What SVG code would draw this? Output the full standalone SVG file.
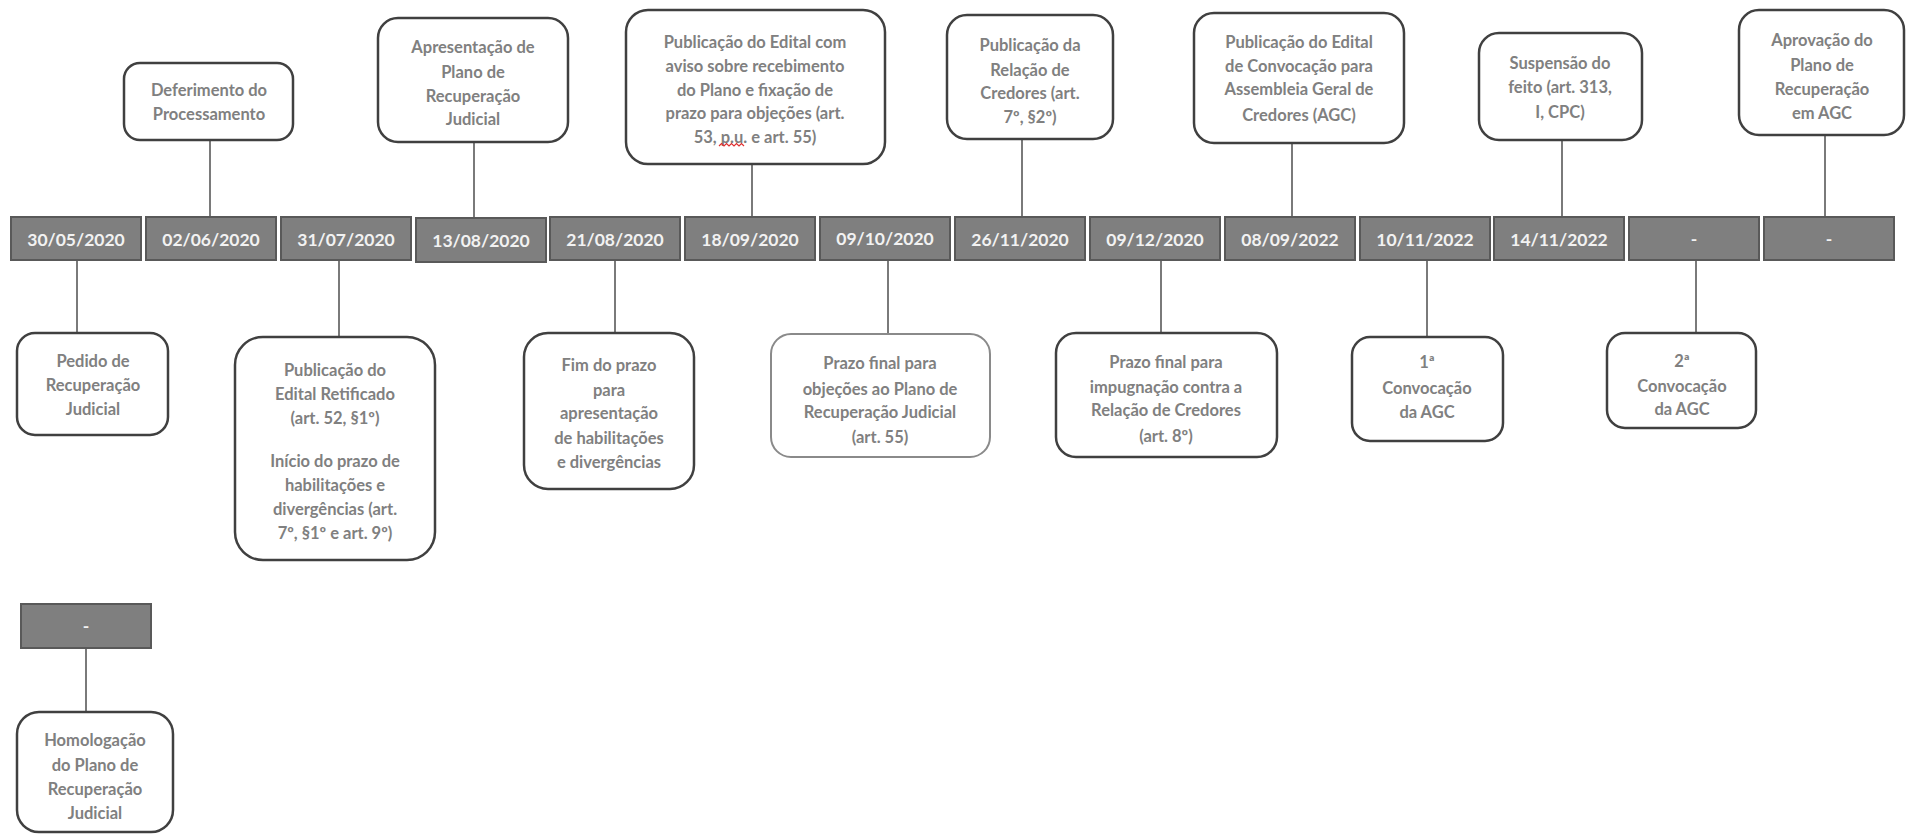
<svg xmlns="http://www.w3.org/2000/svg" width="1907" height="836" viewBox="0 0 1907 836">
<style>
.bg{fill:#ffffff}
.box{fill:#ffffff;stroke:#404040;stroke-width:2.5}
.box-light{fill:#ffffff;stroke:#8a8a8a;stroke-width:2}
.date{fill:#7f7f7f;stroke:#595959;stroke-width:2}
.t{font-family:Lato,"Liberation Sans",sans-serif;font-weight:700;font-size:16.5px;fill:#808080;text-anchor:middle}
.d{font-family:Lato,"Liberation Sans",sans-serif;font-weight:700;font-size:17.5px;fill:#f2f2f2;text-anchor:middle}
.c{stroke:#595959;stroke-width:1.6;fill:none}
</style>
<rect class="bg" x="0" y="0" width="1907" height="836"/>

<g id="connectors">
<line class="c" x1="210" y1="140" x2="210" y2="217"/>
<line class="c" x1="474" y1="142" x2="474" y2="218"/>
<line class="c" x1="752" y1="164" x2="752" y2="217"/>
<line class="c" x1="1022" y1="139" x2="1022" y2="217"/>
<line class="c" x1="1292" y1="143" x2="1292" y2="217"/>
<line class="c" x1="1562" y1="140" x2="1562" y2="217"/>
<line class="c" x1="1825" y1="135" x2="1825" y2="217"/>
<line class="c" x1="77" y1="260" x2="77" y2="333"/>
<line class="c" x1="339" y1="260" x2="339" y2="337"/>
<line class="c" x1="615" y1="260" x2="615" y2="333"/>
<line class="c" x1="888" y1="260" x2="888" y2="334"/>
<line class="c" x1="1161" y1="260" x2="1161" y2="333"/>
<line class="c" x1="1427" y1="260" x2="1427" y2="337"/>
<line class="c" x1="1696" y1="260" x2="1696" y2="333"/>
<line class="c" x1="86" y1="648" x2="86" y2="712"/>
</g>

<g id="dates">
<g id="d1"><rect class="date" x="11" y="217" width="130" height="43"/><text class="d" x="76" y="246">30/05/2020</text></g>
<g id="d2"><rect class="date" x="146" y="217" width="130" height="43"/><text class="d" x="211" y="246">02/06/2020</text></g>
<g id="d3"><rect class="date" x="281" y="217" width="130" height="43"/><text class="d" x="346" y="246">31/07/2020</text></g>
<g id="d4"><rect class="date" x="416" y="218" width="130" height="44"/><text class="d" x="481" y="247">13/08/2020</text></g>
<g id="d5"><rect class="date" x="550" y="217" width="130" height="43"/><text class="d" x="615" y="246">21/08/2020</text></g>
<g id="d6"><rect class="date" x="685" y="217" width="130" height="43"/><text class="d" x="750" y="246">18/09/2020</text></g>
<g id="d7"><rect class="date" x="820" y="217" width="130" height="43"/><text class="d" x="885" y="245">09/10/2020</text></g>
<g id="d8"><rect class="date" x="955" y="217" width="130" height="43"/><text class="d" x="1020" y="246">26/11/2020</text></g>
<g id="d9"><rect class="date" x="1090" y="217" width="130" height="43"/><text class="d" x="1155" y="246">09/12/2020</text></g>
<g id="d10"><rect class="date" x="1225" y="217" width="130" height="43"/><text class="d" x="1290" y="246">08/09/2022</text></g>
<g id="d11"><rect class="date" x="1360" y="217" width="130" height="43"/><text class="d" x="1425" y="246">10/11/2022</text></g>
<g id="d12"><rect class="date" x="1494" y="217" width="130" height="43"/><text class="d" x="1559" y="246">14/11/2022</text></g>
<g id="d13"><rect class="date" x="1629" y="217" width="130" height="43"/><text class="d" x="1694" y="245">-</text></g>
<g id="d14"><rect class="date" x="1764" y="217" width="130" height="43"/><text class="d" x="1829" y="245">-</text></g>
<g id="d15"><rect class="date" x="21" y="604" width="130" height="44"/><text class="d" x="86" y="632">-</text></g>
</g>

<g id="n-deferimento"><rect class="box" x="124" y="63" width="169" height="77" rx="16"/>
<text class="t" x="209" y="96">Deferimento do</text><text class="t" x="209" y="120">Processamento</text></g>

<g id="n-apresentacao"><rect class="box" x="378" y="18" width="190" height="124" rx="20"/>
<text class="t" x="473" y="53">Apresentação de</text><text class="t" x="473" y="78">Plano de</text><text class="t" x="473" y="102">Recuperação</text><text class="t" x="473" y="125">Judicial</text></g>

<g id="n-edital-aviso"><rect class="box" x="626" y="10" width="259" height="154" rx="22"/>
<text class="t" x="755" y="48">Publicação do Edital com</text><text class="t" x="755" y="72">aviso sobre recebimento</text><text class="t" x="755" y="96">do Plano e fixação de</text><text class="t" x="755" y="119">prazo para objeções (art.</text><text class="t" x="755" y="143">53, p.u. e art. 55)</text>
<path d="M719 146 l2.5 -2.5 l2.5 2.5 l2.5 -2.5 l2.5 2.5 l2.5 -2.5 l2.5 2.5 l2.5 -2.5 l2.5 2.5 l2.5 -2.5 l2.5 2.5" fill="none" stroke="#e03030" stroke-width="1.2"/></g>

<g id="n-relacao"><rect class="box" x="947" y="15" width="166" height="124" rx="20"/>
<text class="t" x="1030" y="51">Publicação da</text><text class="t" x="1030" y="76">Relação de</text><text class="t" x="1030" y="99">Credores (art.</text><text class="t" x="1030" y="123">7º, §2º)</text></g>

<g id="n-convocacao"><rect class="box" x="1194" y="13" width="210" height="130" rx="20"/>
<text class="t" x="1299" y="48">Publicação do Edital</text><text class="t" x="1299" y="72">de Convocação para</text><text class="t" x="1299" y="95">Assembleia Geral de</text><text class="t" x="1299" y="121">Credores (AGC)</text></g>

<g id="n-suspensao"><rect class="box" x="1479" y="33" width="163" height="107" rx="20"/>
<text class="t" x="1560" y="69">Suspensão do</text><text class="t" x="1560" y="93">feito (art. 313,</text><text class="t" x="1560" y="118">I, CPC)</text></g>

<g id="n-aprovacao"><rect class="box" x="1739" y="10" width="165" height="125" rx="20"/>
<text class="t" x="1822" y="46">Aprovação do</text><text class="t" x="1822" y="71">Plano de</text><text class="t" x="1822" y="95">Recuperação</text><text class="t" x="1822" y="119">em AGC</text></g>

<g id="n-pedido"><rect class="box" x="17" y="333" width="151" height="102" rx="18"/>
<text class="t" x="93" y="367">Pedido de</text><text class="t" x="93" y="391">Recuperação</text><text class="t" x="93" y="415">Judicial</text></g>

<g id="n-retificado"><rect class="box" x="235" y="337" width="200" height="223" rx="28"/>
<text class="t" x="335" y="376">Publicação do</text><text class="t" x="335" y="400">Edital Retificado</text><text class="t" x="335" y="424">(art. 52, §1º)</text><text class="t" x="335" y="467">Início do prazo de</text><text class="t" x="335" y="491">habilitações e</text><text class="t" x="335" y="515">divergências (art.</text><text class="t" x="335" y="539">7º, §1º e art. 9º)</text></g>

<g id="n-fim-prazo"><rect class="box" x="524" y="333" width="170" height="156" rx="24"/>
<text class="t" x="609" y="371">Fim do prazo</text><text class="t" x="609" y="396">para</text><text class="t" x="609" y="419">apresentação</text><text class="t" x="609" y="444">de habilitações</text><text class="t" x="609" y="468">e divergências</text></g>

<g id="n-objecoes"><rect class="box-light" x="771" y="334" width="219" height="123" rx="20"/>
<text class="t" x="880" y="369">Prazo final para</text><text class="t" x="880" y="395">objeções ao Plano de</text><text class="t" x="880" y="418">Recuperação Judicial</text><text class="t" x="880" y="443">(art. 55)</text></g>

<g id="n-impugnacao"><rect class="box" x="1056" y="333" width="221" height="124" rx="20"/>
<text class="t" x="1166" y="368">Prazo final para</text><text class="t" x="1166" y="393">impugnação contra a</text><text class="t" x="1166" y="416">Relação de Credores</text><text class="t" x="1166" y="442">(art. 8º)</text></g>

<g id="n-1conv"><rect class="box" x="1352" y="337" width="151" height="104" rx="18"/>
<text class="t" x="1427" y="368">1ª</text><text class="t" x="1427" y="394">Convocação</text><text class="t" x="1427" y="418">da AGC</text></g>

<g id="n-2conv"><rect class="box" x="1607" y="333" width="149" height="95" rx="18"/>
<text class="t" x="1682" y="367">2ª</text><text class="t" x="1682" y="392">Convocação</text><text class="t" x="1682" y="415">da AGC</text></g>

<g id="n-homologacao"><rect class="box" x="17" y="712" width="156" height="120" rx="22"/>
<text class="t" x="95" y="746">Homologação</text><text class="t" x="95" y="771">do Plano de</text><text class="t" x="95" y="795">Recuperação</text><text class="t" x="95" y="819">Judicial</text></g>
</svg>
